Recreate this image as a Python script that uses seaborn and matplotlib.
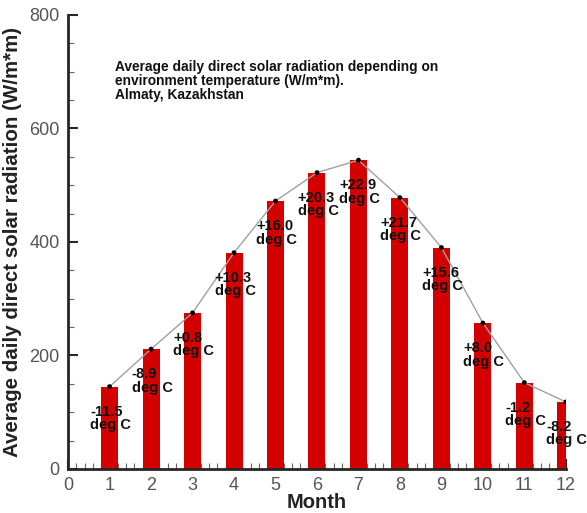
import numpy as np
import matplotlib
matplotlib.use('Agg')
import matplotlib.pyplot as plt
import seaborn as sns
from matplotlib.ticker import MultipleLocator

# data
months = [1, 2, 3, 4, 5, 6, 7, 8, 9, 10, 11, 12]
radiation = [145, 211, 275, 381, 472, 522, 544, 478, 390, 257, 152, 118]
temps = ['-11.5', '-8.9', '+0.8', '+10.3', '+16.0', '+20.3',
         '+22.9', '+21.7', '+15.6', '+8.0', '-1.2', '-8.2']

sns.set_style('ticks')
plt.rcParams['font.family'] = ['Liberation Sans', 'DejaVu Sans']

fig = plt.figure(figsize=(5.87, 5.13), dpi=100)
ax = fig.add_axes([0.116, 0.086, 0.848, 0.885])

sns.barplot(x=months, y=radiation, native_scale=True, width=0.41,
            color='#d40000', saturation=1, edgecolor='none', ax=ax)
sns.lineplot(x=months, y=radiation, color='#a0a0a0', linewidth=1.0, ax=ax)
sns.scatterplot(x=months, y=radiation, color='black', s=12,
                edgecolor='none', zorder=5, ax=ax)

# temperature labels under each point
for m, r, t in zip(months, radiation, temps):
    ax.annotate(t + '\ndeg C', (m, r), xytext=(-14, -13),
                textcoords='offset points', ha='left', va='top',
                fontsize=10.5, fontweight='bold', linespacing=0.95,
                color='#111111')

ax.text(1.13, 720, 'Average daily direct solar radiation depending on\n'
        'environment temperature (W/m*m).\nAlmaty, Kazakhstan',
        fontsize=9.9, fontweight='bold', va='top', ha='left',
        linespacing=1.0, color='#111111')

ax.set_xlim(0, 12)
ax.set_ylim(0, 800)
ax.xaxis.set_major_locator(MultipleLocator(1))
ax.xaxis.set_minor_locator(MultipleLocator(0.2))
ax.yaxis.set_major_locator(MultipleLocator(200))
ax.yaxis.set_minor_locator(MultipleLocator(50))
ax.tick_params(which='major', direction='in', length=7, width=1.5,
               labelsize=13, labelcolor='#555555', pad=6)
ax.tick_params(which='minor', direction='in', length=4, width=0.8,
               color='#666666')

for side in ['top', 'right']:
    ax.spines[side].set_visible(False)
for side in ['left', 'bottom']:
    ax.spines[side].set_linewidth(2)

ax.set_xlabel('Month', fontsize=14.5, fontweight='bold', labelpad=-1,
              color='#222222')
ax.set_ylabel('Average daily direct solar radiation (W/m*m)', fontsize=14.8,
              fontweight='bold', labelpad=5, color='#222222')

plt.savefig('out.png', dpi=100)
